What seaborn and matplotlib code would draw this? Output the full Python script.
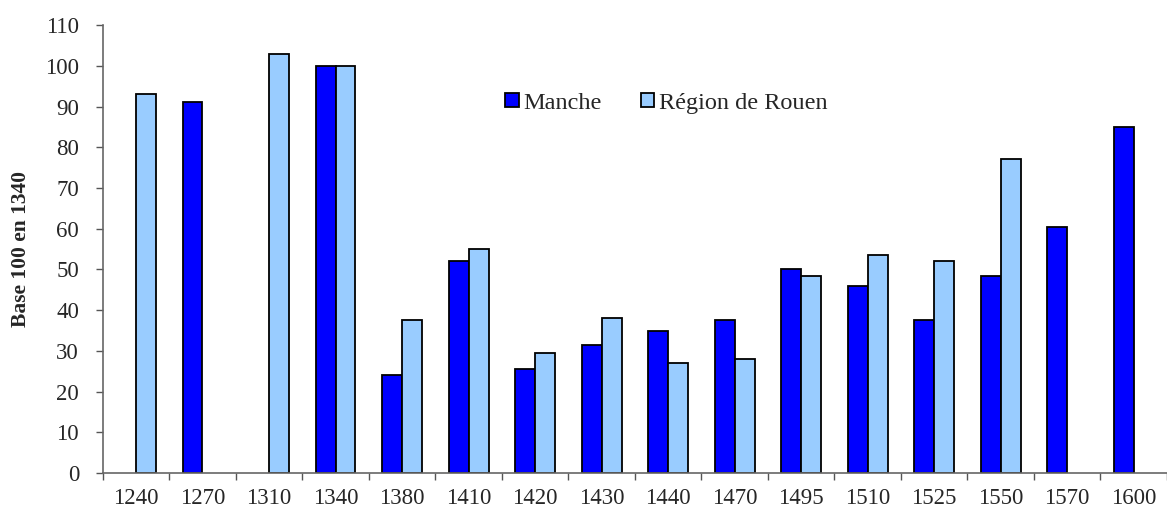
import numpy as np
import pandas as pd
import matplotlib
matplotlib.use("Agg")
import matplotlib.pyplot as plt
import seaborn as sns

# ----------------------------------------------------------------------------
# Données (base 100 en 1340)
# ----------------------------------------------------------------------------
annees = ["1240", "1270", "1310", "1340", "1380", "1410", "1420", "1430",
          "1440", "1470", "1495", "1510", "1525", "1550", "1570", "1600"]
manche = [np.nan, 91, np.nan, 100, 24, 52, 25.5, 31.5,
          35, 37.5, 50, 46, 37.5, 48.5, 60.5, 85]
rouen = [93, np.nan, 103, 100, 37.5, 55, 29.5, 38,
         27, 28, 48.5, 53.5, 52, 77, np.nan, np.nan]
series = ["Manche", "Région de Rouen"]
couleurs = ["#0000FF", "#99CCFF"]

df = pd.concat([
    pd.DataFrame({"annee": annees, "valeur": manche, "serie": series[0]}),
    pd.DataFrame({"annee": annees, "valeur": rouen, "serie": series[1]}),
], ignore_index=True)

sns.set_style("ticks")
plt.rcParams["font.family"] = ["Liberation Serif", "DejaVu Serif"]

fig = plt.figure(figsize=(11.67, 5.11), dpi=100)
ax = fig.add_axes([0.088, 0.074, 0.912, 0.877])

sns.barplot(data=df, x="annee", y="valeur", hue="serie", order=annees,
            hue_order=series, palette=couleurs, saturation=1, width=0.6,
            dodge=True, edgecolor="black", linewidth=1.3, errorbar=None, ax=ax)

ax.set_ylim(0, 110)
ax.set_yticks(range(0, 111, 10))
ax.set_xlim(-0.5, len(annees) - 0.5)
ax.set_xticks(np.arange(-0.5, len(annees), 1.0), minor=True)
ax.tick_params(axis="x", which="major", length=0, labelsize=16.5, pad=11)
ax.tick_params(axis="x", which="minor", length=5, color="#555555", width=1)
ax.tick_params(axis="y", length=5, color="#555555", width=1, labelsize=16.5, pad=12)
ax.set_xlabel("")
ax.set_ylabel("Base 100 en 1340", fontsize=15.5, fontweight="bold", labelpad=10)

sns.despine(ax=ax)
for s in ("left", "bottom"):
    ax.spines[s].set_color("#666666")
    ax.spines[s].set_linewidth(1.2)

sns.move_legend(ax, "center", bbox_to_anchor=(0.571, 0.798),
                bbox_transform=fig.transFigure, ncol=2, frameon=False,
                title=None, fontsize=17.5, handlelength=0.55, handleheight=0.55,
                handletextpad=0.2, columnspacing=1.6)

fig.savefig("out.png", dpi=100)
